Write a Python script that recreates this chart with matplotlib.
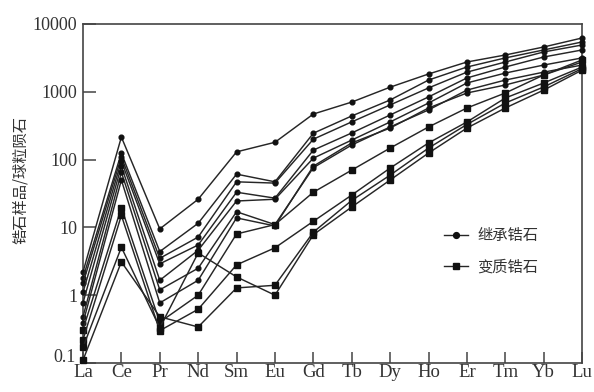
import matplotlib
matplotlib.use("Agg")
import matplotlib.pyplot as plt
import matplotlib.transforms as mtransforms
from matplotlib.lines import Line2D
from matplotlib.ticker import FixedLocator, NullLocator

elements = ["La", "Ce", "Pr", "Nd", "Sm", "Eu", "Gd", "Tb", "Dy", "Ho", "Er", "Tm", "Yb", "Lu"]
y_ticks = [0.1, 1, 10, 100, 1000, 10000]
y_tick_labels = ["0.1", "1", "10", "100", "1000", "10000"]

# 继承锆石 (inherited zircon), chondrite-normalised REE
inherited = [
    [2.2, 215, 9.5, 26, 130, 180, 470, 705, 1170, 1830, 2750, 3490, 4580, 6220],
    [1.8, 125, 4.4, 11.5, 61, 47, 245, 440, 757, 1490, 2320, 3160, 4140, 5430],
    [1.5, 110, 3.5, 7.2, 47, 45, 200, 360, 640, 1140, 1950, 2750, 3870, 4900],
    [1.1, 95, 2.9, 5.5, 33, 27, 138, 247, 455, 840, 1600, 2320, 3260, 4140],
    [0.77, 80, 1.66, 4.6, 24.5, 26, 105, 194, 359, 683, 1350, 1890, 2480, 3160],
    [0.48, 65, 1.2, 2.5, 17, 11, 76, 164, 303, 540, 1060, 1490, 1950, 2480],
    [0.39, 50, 0.77, 1.66, 13.8, 10.5, 80, 176, 292, 577, 960, 1260, 1770, 2750],
]

# 变质锆石 (metamorphic zircon)
metamorphic = [
    [0.31, 19.6, 0.40, 1.0, 8.0, 11, 33, 70, 148, 303, 577, 960, 1770, 2950],
    [0.22, 15, 0.30, 0.62, 2.8, 5.0, 12.3, 30, 75, 176, 359, 810, 1350, 2320],
    [0.17, 5.1, 0.33, 4.2, 1.86, 1.0, 7.8, 20, 50, 125, 292, 577, 1060, 2090],
    [0.11, 3.1, 0.48, 0.34, 1.28, 1.4, 8.5, 25, 59, 148, 330, 683, 1180, 2200],
]

legend_labels = ["继承锆石", "变质锆石"]

line_color = "#262626"
serif = ["Liberation Serif", "DejaVu Serif"]
cjk = ["Noto Sans CJK SC", "DejaVu Sans"]

fig = plt.figure(figsize=(5.94, 3.92), dpi=100)
ax = fig.add_axes([0.1397, 0.074, 0.8403, 0.8648])

x = list(range(len(elements)))
for vals in inherited:
    ax.plot(x, vals, color=line_color, lw=1.05, marker="o", ms=3.4,
            mfc="#111111", mec="#111111", clip_on=False, zorder=3)
for vals in metamorphic:
    ax.plot(x, vals, color=line_color, lw=1.05, marker="s", ms=4.6,
            mfc="#111111", mec="#111111", clip_on=False, zorder=3)

ax.set_yscale("log")
ax.set_ylim(0.1, 10000)
ax.set_xlim(0, len(elements) - 1)

ax.yaxis.set_major_locator(FixedLocator(y_ticks))
ax.yaxis.set_minor_locator(NullLocator())
ax.set_yticklabels(y_tick_labels, fontfamily=serif, fontsize=13, color="#333333")
ax.set_xticks(x)
ax.set_xticklabels(elements, fontfamily=serif, fontsize=13.5, color="#333333")

ax.tick_params(axis="y", direction="in", length=9, width=1.1, color="#444444", pad=4)
ax.tick_params(axis="x", direction="in", length=8, width=1.1, color="#444444", pad=1)

# lift the lowest y label a little so it clears the first x label
fig.canvas.draw()
low_label = ax.get_yticklabels()[0]
low_label.set_transform(low_label.get_transform() +
                        mtransforms.ScaledTranslation(-2 / 100, 7 / 100, fig.dpi_scale_trans))

for s in ax.spines.values():
    s.set_color("#444444")
    s.set_linewidth(1.2)

fig.text(0.035, 0.54, "锆石样品/球粒陨石", rotation=90, ha="center", va="center",
         fontfamily=cjk, fontsize=11, color="#333333")

handles = [
    Line2D([0], [0], color=line_color, lw=1.0, marker="o", ms=4.2, mfc="#111111", mec="#111111"),
    Line2D([0], [0], color=line_color, lw=1.0, marker="s", ms=4.6, mfc="#111111", mec="#111111"),
]
leg = ax.legend(handles, legend_labels, loc="center left", bbox_to_anchor=(0.695, 0.33),
                frameon=False, handlelength=1.6, handletextpad=0.6, labelspacing=0.95,
                prop={"family": cjk, "size": 11})
for t in leg.get_texts():
    t.set_color("#333333")

fig.savefig("out.png", dpi=100, facecolor="white")
